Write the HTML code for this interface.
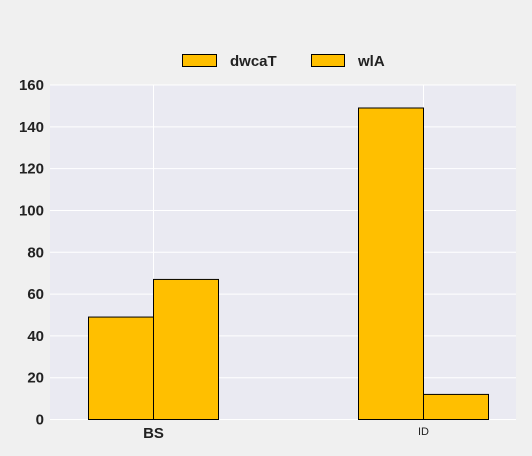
<!DOCTYPE html>
<html><head><meta charset="utf-8"><style>
body{margin:0;background:#f0f0f0;}
svg{display:block;font-family:"Liberation Sans",sans-serif;}
</style></head><body>
<svg id="c" width="532" height="456">
<rect x="50" y="85" width="466" height="334.5" fill="#eaeaf2"/>
<g id="grid"></g><g id="bars"></g><g id="axes"></g>
<g>
<rect x="182.5" y="54.5" width="34" height="12" fill="#ffbf00" stroke="#000"/>
<text x="230" y="66" font-size="15" font-weight="bold" fill="#222">dwcaT</text>
<rect x="311.5" y="54.5" width="33" height="12" fill="#ffbf00" stroke="#000"/>
<text x="358" y="66" font-size="15" font-weight="bold" fill="#222">wlA</text>
</g>
</svg>
<script>
const categories=["BS","ID"];
const seriesDwcaT=[49,149];
const seriesWlA=[67,12];
const yTicks=[0,20,40,60,80,100,120,140,160];
const NS="http://www.w3.org/2000/svg";
const x0=50,x1=516,yTop=85,yBot=419.5,yMax=160;
const y=v=>yBot-(v/yMax)*(yBot-yTop);
const cx=i=>153.5+i*270;
const bw=65;
function mk(t,a,p){const e=document.createElementNS(NS,t);for(const k in a)e.setAttribute(k,a[k]);p.appendChild(e);return e;}
const grid=document.getElementById('grid'),bars=document.getElementById('bars'),axes=document.getElementById('axes');
yTicks.forEach(v=>{
 const l=mk('line',{x1:x0,x2:x1,y1:y(v),y2:y(v),stroke:'#fff','stroke-width':1},grid);
 
 
 const t=mk('text',{x:44,y:y(v)+5,'text-anchor':'end','font-size':15,'font-weight':'bold',fill:'#222'},axes);
 t.textContent=v;
 
 
});
categories.forEach((c,i)=>{
 const l=mk('line',{x1:cx(i),x2:cx(i),y1:yTop,y2:yBot,stroke:'#fff','stroke-width':1},grid);
 
 
 [[seriesDwcaT,-bw,'dwcat'],[seriesWlA,0,'wla']].forEach(([s,off,n])=>{
  const r=mk('rect',{x:cx(i)+off,y:y(s[i]),width:bw,height:yBot-y(s[i]),fill:'#ffbf00',stroke:'#000','stroke-width':1},bars);
  
  
 });
 const t=mk('text',{x:cx(i),y:i==0?438:435,'text-anchor':'middle','font-size':i==0?15:11,'font-weight':i==0?'bold':'normal',fill:'#222'},axes);
 t.textContent=c;
 
 
});
</script>
</body></html>
